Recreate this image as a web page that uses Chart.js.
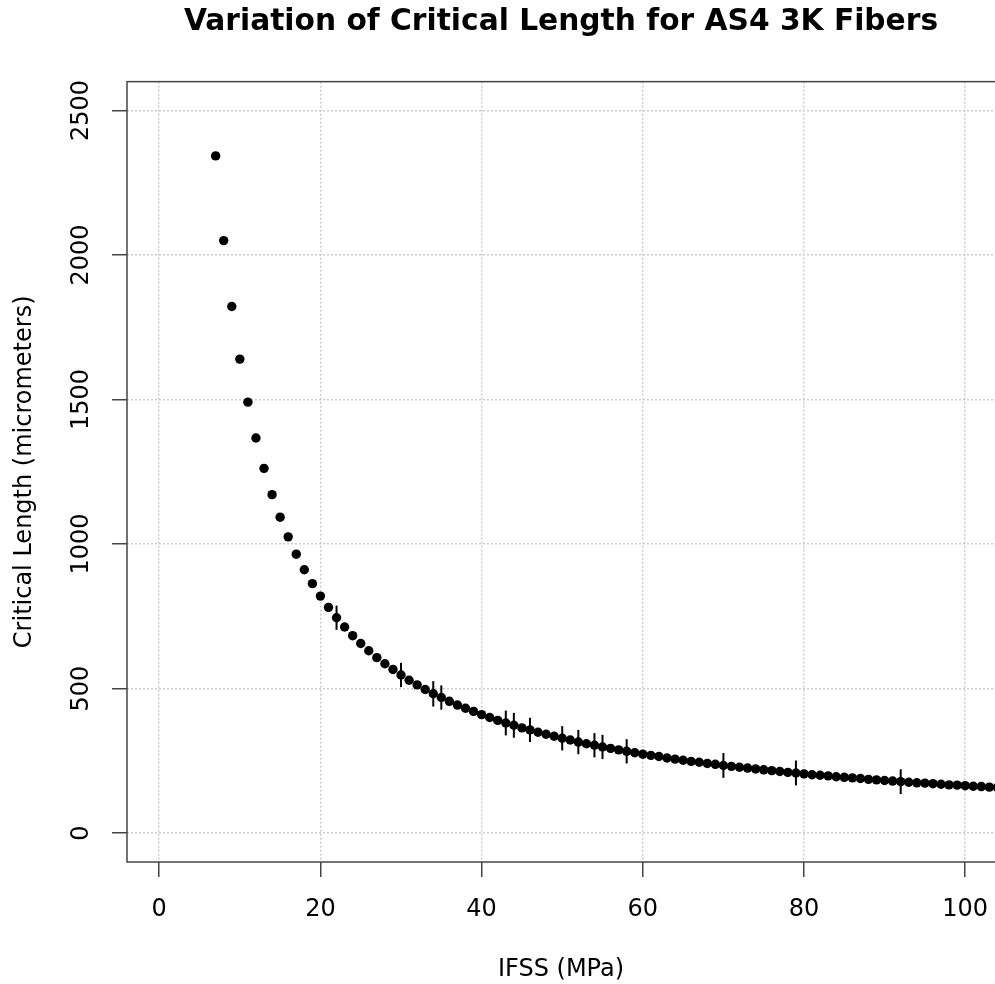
<!DOCTYPE html>
<html>
<head>
<meta charset="utf-8">
<script src="https://cdn.jsdelivr.net/npm/chart.js@4/dist/chart.umd.min.js"></script>
<style>
  html, body { margin: 0; padding: 0; background: #fff; }
  #wrap { width: 995px; height: 984px; }
</style>
</head>
<body>
<div id="wrap"><canvas id="chart" width="995" height="984"></canvas></div>
<script>
// IFSS values (MPa) and critical length (micrometers)
const ifss = [7, 8, 9, 10, 11, 12, 13, 14, 15, 16, 17, 18, 19, 20, 21, 22, 23, 24, 25, 26,
  27, 28, 29, 30, 31, 32, 33, 34, 35, 36, 37, 38, 39, 40, 41, 42, 43, 44, 45, 46,
  47, 48, 49, 50, 51, 52, 53, 54, 55, 56, 57, 58, 59, 60, 61, 62, 63, 64, 65, 66,
  67, 68, 69, 70, 71, 72, 73, 74, 75, 76, 77, 78, 79, 80, 81, 82, 83, 84, 85, 86,
  87, 88, 89, 90, 91, 92, 93, 94, 95, 96, 97, 98, 99, 100, 101, 102, 103, 104];
const critLen = [2343, 2050, 1822, 1640, 1491, 1367, 1262, 1171, 1093, 1025, 965, 911, 863, 820, 781, 745, 713, 683, 656, 631,
  607, 586, 566, 547, 529, 513, 497, 482, 469, 456, 443, 432, 421, 410, 400, 390, 381, 373, 364, 357,
  349, 342, 335, 328, 322, 315, 309, 304, 298, 293, 288, 283, 278, 273, 269, 265, 260, 256, 252, 248,
  245, 241, 238, 234, 231, 228, 225, 222, 219, 216, 213, 210, 208, 205, 202, 200, 198, 195, 193, 191,
  189, 186, 184, 182, 180, 178, 176, 174, 173, 171, 169, 167, 166, 164, 162, 161, 159, 158];

// points that carry an error bar, and the half length of each bar
const errIfss = [22, 30, 34, 35, 43, 44, 46, 50, 52, 54, 55, 58, 70, 79, 92];
const errHalf = [42, 42, 44, 42, 43, 43, 42, 42, 42, 42, 42, 42, 43, 43, 43];

const xTicks = [0, 20, 40, 60, 80, 100];
const yTicks = [0, 500, 1000, 1500, 2000, 2500];

const FONT = "'DejaVu Sans', 'Liberation Sans', sans-serif";

const errorBars = {
  id: 'errorBars',
  afterDatasetsDraw(chart) {
    const ctx = chart.ctx;
    const xs = chart.scales.x, ys = chart.scales.y;
    ctx.save();
    ctx.strokeStyle = '#000';
    ctx.lineWidth = 2;
    errIfss.forEach((v, i) => {
      const y = critLen[ifss.indexOf(v)];
      const px = xs.getPixelForValue(v);
      ctx.beginPath();
      ctx.moveTo(px, ys.getPixelForValue(y - errHalf[i]));
      ctx.lineTo(px, ys.getPixelForValue(y + errHalf[i]));
      ctx.stroke();
    });
    ctx.restore();
  }
};

// box round the plot; its right side lies just outside the picture
const plotBox = {
  id: 'plotBox',
  afterDraw(chart) {
    const a = chart.chartArea;
    const ctx = chart.ctx;
    ctx.save();
    ctx.strokeStyle = '#444';
    ctx.lineWidth = 1.5;
    ctx.strokeRect(a.left, a.top, a.right - a.left + 4, a.bottom - a.top);
    ctx.restore();
  }
};

new Chart(document.getElementById('chart'), {
  type: 'scatter',
  data: {
    datasets: [{
      data: ifss.map((v, i) => ({x: v, y: critLen[i]})),
      backgroundColor: '#000',
      borderWidth: 0,
      pointRadius: 4.7,
      pointHoverRadius: 4.7
    }]
  },
  options: {
    responsive: false,
    animation: false,
    devicePixelRatio: 1,
    layout: {autoPadding: false, padding: 0},
    plugins: {
      legend: {display: false},
      tooltip: {enabled: false},
      title: {
        display: true,
        text: 'Variation of Critical Length for AS4 3K Fibers',
        fullSize: false,
        color: '#000',
        font: {family: FONT, size: 29.7, weight: 'bold', lineHeight: 1.2},
        padding: {top: 4, bottom: 42}
      }
    },
    scales: {
      x: {
        type: 'linear',
        min: -4,
        max: 103.7,
        z: 1,
        afterFit: s => { s.height = 122; s.paddingLeft = 0; s.paddingRight = 0; },
        afterBuildTicks: s => { s.ticks = xTicks.map(v => ({value: v})); },
        ticks: {
          autoSkip: false,
          includeBounds: false,
          maxRotation: 0,
          padding: 18,
          color: '#000',
          font: {family: FONT, size: 24}
        },
        grid: {
          color: '#cccccc',
          lineWidth: 1.5,
          tickLength: 15,
          tickColor: '#444',
          tickWidth: 1.5
        },
        border: {display: false, dash: [2, 2]},
        title: {
          display: true,
          text: 'IFSS (MPa)',
          color: '#000',
          font: {family: FONT, size: 24},
          padding: {top: 0, bottom: 0}
        }
      },
      y: {
        type: 'linear',
        min: -100,
        max: 2600,
        z: 1,
        afterFit: s => { s.width = 127; s.paddingTop = 0; s.paddingBottom = 0; },
        afterBuildTicks: s => { s.ticks = yTicks.map(v => ({value: v})); },
        ticks: {
          autoSkip: false,
          includeBounds: false,
          minRotation: 90,
          maxRotation: 90,
          crossAlign: 'center',
          padding: 0,
          color: '#000',
          font: {family: FONT, size: 24},
          callback: v => String(v)
        },
        grid: {
          color: '#cccccc',
          lineWidth: 1.5,
          tickLength: 15,
          tickColor: '#444',
          tickWidth: 1.5
        },
        border: {display: false, dash: [2, 2]},
        title: {
          display: true,
          text: 'Critical Length (micrometers)',
          color: '#000',
          font: {family: FONT, size: 24},
          padding: {top: 10, bottom: 0}
        }
      }
    }
  },
  plugins: [errorBars, plotBox]
});
</script>
</body>
</html>
